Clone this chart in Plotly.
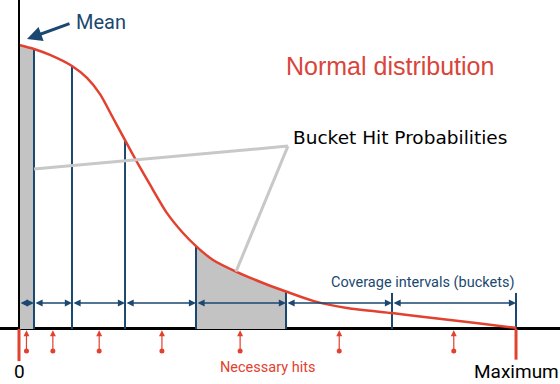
import plotly.graph_objects as go

# ---- data (x in value units: 0 = mean, 100 = maximum; y = relative density) ----
curve_x = [0, 3.01, 6.22, 10.64, 13.65, 16.27, 18.67, 21.29, 23.69, 26.31, 29.72, 32.93,
           35.54, 38.96, 43.57, 49.00, 53.61, 59.04, 65.86, 74.90, 80.52, 86.55, 92.57, 99.80]
curve_y = [1.000, 0.986, 0.965, 0.926, 0.884, 0.827, 0.750, 0.665, 0.588, 0.508, 0.408, 0.338,
           0.292, 0.243, 0.202, 0.162, 0.132, 0.099, 0.074, 0.056, 0.044, 0.032, 0.019, 0.004]
bucket_edges = [0, 3.01, 10.64, 21.29, 35.54, 53.61, 74.90, 99.80]
bucket_tops = [1.000, 0.986, 0.926, 0.665, 0.292, 0.132, 0.127, 0.127]
shaded_buckets = [0, 4]
hit_x = [1.5, 6.8, 16.1, 28.7, 44.4, 64.3, 87.3]
hit_from = -0.0775
coverage_level = 0.0915

RED = "#e2412f"
BLUE = "#1b4870"
GRAY_FILL = "#c3c3c3"
GRAY_LINE = "#c8c8c8"

fig = go.Figure()

# shaded buckets
for b in shaded_buckets:
    lo, hi = bucket_edges[b], bucket_edges[b + 1]
    xs = [x for x in curve_x if lo - 1e-9 <= x <= hi + 1e-9]
    ys = [curve_y[curve_x.index(x)] for x in xs]
    fig.add_trace(go.Scatter(x=xs, y=ys, mode="lines", line=dict(width=0, shape="spline"),
                             fill="tozeroy", fillcolor=GRAY_FILL, hoverinfo="skip"))

# bucket boundary lines
for e, t in zip(bucket_edges[1:], bucket_tops[1:]):
    fig.add_trace(go.Scatter(x=[e, e], y=[0, t], mode="lines",
                             line=dict(color=BLUE, width=2), hoverinfo="skip"))

# distribution curve
fig.add_trace(go.Scatter(x=curve_x, y=curve_y, mode="lines",
                         line=dict(color=RED, width=2.5, shape="spline", smoothing=0.7),
                         hoverinfo="skip"))

# necessary hits dots
fig.add_trace(go.Scatter(x=hit_x, y=[hit_from] * len(hit_x), mode="markers",
                         marker=dict(color=RED, size=5), hoverinfo="skip"))

shapes = [
    # vertical axis
    dict(type="line", xref="x", yref="y", x0=0, x1=0, y0=0, y1=1.2,
         line=dict(color="black", width=2)),
    # red ticks at 0 and maximum
    dict(type="line", xref="x", yref="y", x0=bucket_edges[0], x1=bucket_edges[0], y0=0, y1=-0.113,
         line=dict(color=RED, width=3)),
    dict(type="line", xref="x", yref="y", x0=bucket_edges[-1], x1=bucket_edges[-1], y0=0, y1=-0.108,
         line=dict(color=RED, width=3)),
    # pointer lines for "Bucket Hit Probabilities"
    dict(type="line", xref="x", yref="y", x0=54.0, y0=0.644, x1=bucket_edges[1], y1=0.563,
         line=dict(color=GRAY_LINE, width=3)),
    dict(type="line", xref="x", yref="y", x0=54.0, y0=0.644, x1=43.57, y1=0.202,
         line=dict(color=GRAY_LINE, width=3)),
]

annotations = []
# coverage interval double arrows
for lo, hi in zip(bucket_edges[:-1], bucket_edges[1:]):
    annotations.append(dict(x=hi, y=coverage_level, ax=lo, ay=coverage_level,
                            xref="x", yref="y", axref="x", ayref="y", text="",
                            showarrow=True, arrowside="end+start", arrowhead=2, startarrowhead=2,
                            arrowsize=1.1, startarrowsize=1.1, arrowwidth=1.3, arrowcolor=BLUE))
# necessary hits arrows
for hx in hit_x:
    annotations.append(dict(x=hx, y=-0.004, ax=hx, ay=hit_from,
                            xref="x", yref="y", axref="x", ayref="y", text="",
                            showarrow=True, arrowhead=2, arrowsize=1, arrowwidth=1.2,
                            arrowcolor=RED))
# mean arrow
annotations.append(dict(x=1.6, y=1.021, ax=10.44, ay=1.077, xref="x", yref="y",
                        axref="x", ayref="y", text="", showarrow=True, arrowhead=2,
                        arrowsize=1, arrowwidth=3, arrowcolor=BLUE))

def txt(x, y, s, size, color, family, xanchor="center"):
    annotations.append(dict(x=x, y=y, xref="x", yref="y", text=s, showarrow=False,
                            xanchor=xanchor, yanchor="middle",
                            font=dict(size=size, color=color, family=family)))

txt(11.0, 1.081, "Mean", 20, BLUE, "Roboto", "left")
txt(74.5, 0.926, "Normal distribution", 25, "#d9453a", "Liberation Sans")
txt(54.6, 0.676, "Bucket Hit Probabilities", 18.5, "black", "DejaVu Sans", "left")
txt(81.1, 0.162, "Coverage intervals (buckets)", 14.5, BLUE, "Roboto")
txt(49.8, -0.137, "Necessary hits", 14.5, "#e2412f", "Roboto")
txt(0, -0.151, "0", 19, "black", "Roboto")
txt(99.8, -0.151, "Maximum", 19, "black", "Roboto")

fig.update_layout(
    width=560, height=384, margin=dict(l=0, r=0, t=0, b=0),
    paper_bgcolor="white", plot_bgcolor="white", showlegend=False,
    shapes=shapes, annotations=annotations,
    xaxis=dict(range=[-3.815, 108.63], showgrid=False, zeroline=False,
               showticklabels=False, ticks=""),
    yaxis=dict(range=[-0.1937, 1.1585], showgrid=False, zeroline=True,
               zerolinecolor="black", zerolinewidth=2.5,
               showticklabels=False, ticks=""),
)

fig.write_html("out.html", config={"displayModeBar": False},
               post_script="document.body.style.margin='0';")
